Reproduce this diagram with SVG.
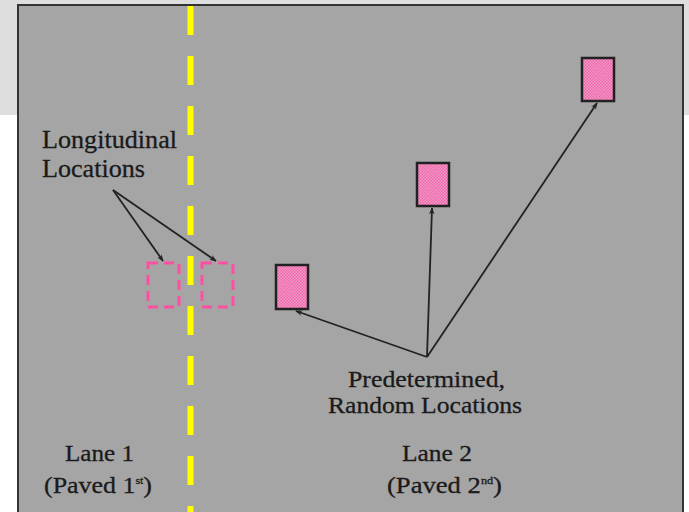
<svg xmlns="http://www.w3.org/2000/svg" width="689" height="512" viewBox="0 0 689 512">
  <defs>
    <pattern id="chk" width="3" height="3" patternUnits="userSpaceOnUse">
      <rect width="3" height="3" fill="#ee66aa"/>
      <rect width="1.5" height="1.5" fill="#f49cc8"/>
      <rect x="1.5" y="1.5" width="1.5" height="1.5" fill="#f49cc8"/>
    </pattern>
    <marker id="ah" viewBox="0 0 10 10" refX="9" refY="5" markerWidth="7" markerHeight="7" orient="auto" markerUnits="userSpaceOnUse">
      <path d="M0,1 L10,5 L0,9 L3,5 Z" fill="#222"/>
    </marker>
    <style>
      text { font-family: "Liberation Serif", "Times New Roman", "DejaVu Serif", serif; font-size: 24px; fill: #1a1a1a; stroke: #1a1a1a; stroke-width: 0.3; }
      .sup { font-size: 11px; }
      .box { fill: url(#chk); stroke: #222; stroke-width: 2.5; }
      .dbox { fill: none; stroke: #ff4fa3; stroke-width: 3; stroke-dasharray: 10 6; }
      .conn { stroke: #222; stroke-width: 1.8; fill: none; marker-end: url(#ah); }
    </style>
  </defs>

  <rect x="0" y="0" width="689" height="512" fill="#ffffff"/>
  <rect x="0" y="0" width="689" height="115" fill="#dedede"/>

  <g id="road">
    <rect x="18" y="5" width="665" height="510" fill="#a5a5a5" stroke="#333" stroke-width="2"/>
    <line x1="190.5" y1="6" x2="190.5" y2="512" stroke="#ffff00" stroke-width="6" stroke-dasharray="29 21"/>
  </g>

  <g id="long-left"><rect class="dbox" x="148" y="263" width="31" height="44"/></g>
  <g id="long-right"><rect class="dbox" x="202" y="263" width="31" height="44"/></g>

  <g id="rand-a"><rect class="box" x="276" y="265" width="32" height="44"/></g>
  <g id="rand-b"><rect class="box" x="417" y="163" width="32" height="43"/></g>
  <g id="rand-c"><rect class="box" x="582" y="58" width="32" height="43"/></g>

  <g id="label-longitudinal">
    <text x="42" y="148" style="font-size:25px" textLength="135" lengthAdjust="spacingAndGlyphs">Longitudinal</text>
    <text x="42" y="177" style="font-size:25px" textLength="103" lengthAdjust="spacingAndGlyphs">Locations</text>
  </g>
  <g id="label-random">
    <text x="348" y="387" textLength="157" lengthAdjust="spacingAndGlyphs">Predetermined,</text>
    <text x="328" y="413" textLength="194" lengthAdjust="spacingAndGlyphs">Random Locations</text>
  </g>
  <g id="label-lane1">
    <text x="65" y="461" textLength="69" lengthAdjust="spacingAndGlyphs">Lane 1</text>
    <text x="44" y="493" textLength="108" lengthAdjust="spacingAndGlyphs">(Paved 1<tspan class="sup" dy="-9">st</tspan><tspan dy="9">)</tspan></text>
  </g>
  <g id="label-lane2">
    <text x="402" y="461" textLength="70" lengthAdjust="spacingAndGlyphs">Lane 2</text>
    <text x="387" y="493" textLength="115" lengthAdjust="spacingAndGlyphs">(Paved 2<tspan class="sup" dy="-9">nd</tspan><tspan dy="9">)</tspan></text>
  </g>

  <g id="connectors">
    <line class="conn" x1="113" y1="190" x2="163" y2="261"/>
    <line class="conn" x1="113" y1="190" x2="216" y2="261"/>
    <line class="conn" x1="427" y1="357" x2="296" y2="311"/>
    <line class="conn" x1="427" y1="357" x2="432" y2="208"/>
    <line class="conn" x1="427" y1="357" x2="597" y2="103"/>
  </g>
</svg>
